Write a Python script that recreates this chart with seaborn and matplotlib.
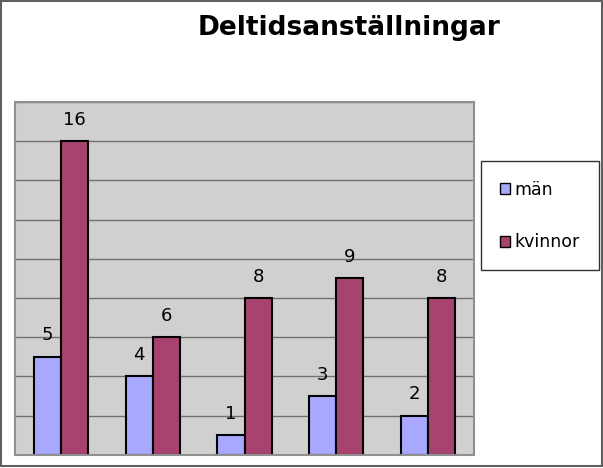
import seaborn as sns
import matplotlib.pyplot as plt
import matplotlib.patches as mpatches
import pandas as pd

groups = ['1', '2', '3', '4', '5']
man = [5, 4, 1, 3, 2]
kvinnor = [16, 6, 8, 9, 8]
series = ['män', 'kvinnor']
colors = ['#A8A8FF', '#A8426F']

df = pd.DataFrame({
    'grupp': groups * 2,
    'antal': man + kvinnor,
    'kon': [series[0]] * len(groups) + [series[1]] * len(groups),
})

sns.set_style('white')
plt.rcParams['font.family'] = ['DejaVu Sans']
plt.rcParams['text.color'] = 'black'

fig = plt.figure(figsize=(6.03, 4.68), dpi=100)
ax = fig.add_axes([0.025, 0.028, 0.761, 0.754])
ax.set_facecolor('#D0D0D0')

sns.barplot(data=df, x='grupp', y='antal', hue='kon', palette=colors, saturation=1,
            width=0.59, edgecolor='black', linewidth=1.5, ax=ax, legend=False)

ax.set_ylim(0, 18)
ax.set_yticks(range(0, 19, 2))
ax.yaxis.grid(True, color='#707070', linewidth=1)
ax.set_axisbelow(True)
ax.set_yticklabels([])
ax.set_xticklabels([])
ax.tick_params(length=0)
ax.set_xlabel('')
ax.set_ylabel('')
for s in ax.spines.values():
    s.set_color('#909090')
    s.set_linewidth(1.5)

for c in ax.containers:
    ax.bar_label(c, padding=9, fontsize=13, color='black')

fig.text(0.578, 0.94, 'Deltidsanställningar', ha='center', va='center',
         fontsize=19, fontweight='bold', color='black')

handles = [mpatches.Patch(facecolor=colors[i], edgecolor='black', label=series[i])
           for i in range(2)]
leg = fig.legend(handles=handles, loc='upper left', bbox_to_anchor=(0.797, 0.655),
                 frameon=True, fancybox=False, fontsize=12.5, labelspacing=2.0,
                 handlelength=0.6, handleheight=0.6, handletextpad=0.25,
                 borderpad=1.1, borderaxespad=0)
leg.get_frame().set_edgecolor('black')
leg.get_frame().set_linewidth(1)
for t in leg.get_texts():
    t.set_color('black')

fig.patches.append(mpatches.Rectangle((0.002, 0.004), 0.996, 0.993, transform=fig.transFigure,
                                      fill=False, edgecolor='#606060', linewidth=1.5))

fig.savefig('out.png', dpi=100)
